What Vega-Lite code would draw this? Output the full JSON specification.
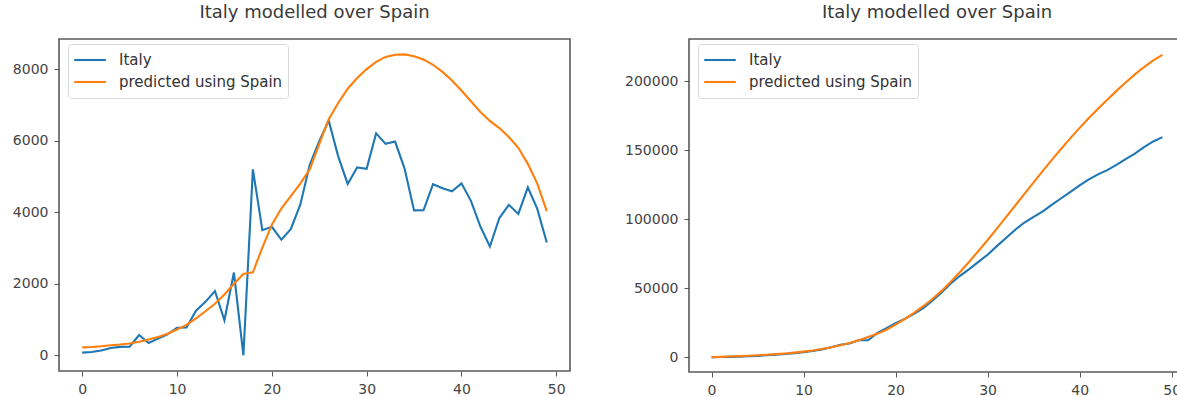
{
  "$schema": "https://vega.github.io/schema/vega-lite/v6.json",
  "background": "white",
  "padding": {"left": 0, "top": 3, "right": 0, "bottom": 0},
  "spacing": 47,
  "config": {
    "font": "DejaVu Sans",
    "view": {"stroke": "#5a5a5a", "strokeWidth": 1.6},
    "title": {"fontSize": 18, "fontWeight": "normal", "color": "#3a3a3a", "offset": 17, "anchor": "middle"},
    "axis": {
      "domain": false, "grid": false, "title": null,
      "tickColor": "#555", "tickSize": 5, "tickWidth": 1,
      "labelFontSize": 14, "labelColor": "#444", "labelPadding": 6
    },
    "legend": {
      "orient": "none", "legendX": 9, "legendY": 5, "title": null,
      "fillColor": "white", "strokeColor": "#d8d8d8", "cornerRadius": 3, "padding": 5,
      "symbolType": "stroke", "symbolSize": 1000, "symbolStrokeWidth": 2.2,
      "labelFontSize": 15, "labelColor": "#333", "labelOffset": 12, "labelLimit": 400,
      "rowPadding": 0, "clipHeight": 22
    },
    "line": {"strokeWidth": 2.1}
  },
  "datasets": {
    "daily": [
      {"day": 0, "Italy": 74, "predicted using Spain": 220},
      {"day": 1, "Italy": 93, "predicted using Spain": 230},
      {"day": 2, "Italy": 131, "predicted using Spain": 250},
      {"day": 3, "Italy": 202, "predicted using Spain": 280},
      {"day": 4, "Italy": 233, "predicted using Spain": 300},
      {"day": 5, "Italy": 240, "predicted using Spain": 330},
      {"day": 6, "Italy": 566, "predicted using Spain": 380},
      {"day": 7, "Italy": 342, "predicted using Spain": 440},
      {"day": 8, "Italy": 466, "predicted using Spain": 510},
      {"day": 9, "Italy": 587, "predicted using Spain": 600},
      {"day": 10, "Italy": 769, "predicted using Spain": 720},
      {"day": 11, "Italy": 778, "predicted using Spain": 850},
      {"day": 12, "Italy": 1247, "predicted using Spain": 1030},
      {"day": 13, "Italy": 1492, "predicted using Spain": 1230},
      {"day": 14, "Italy": 1797, "predicted using Spain": 1440},
      {"day": 15, "Italy": 977, "predicted using Spain": 1700},
      {"day": 16, "Italy": 2313, "predicted using Spain": 2000},
      {"day": 17, "Italy": 0, "predicted using Spain": 2270},
      {"day": 18, "Italy": 5198, "predicted using Spain": 2320},
      {"day": 19, "Italy": 3497, "predicted using Spain": 3010},
      {"day": 20, "Italy": 3590, "predicted using Spain": 3650},
      {"day": 21, "Italy": 3233, "predicted using Spain": 4100},
      {"day": 22, "Italy": 3526, "predicted using Spain": 4450},
      {"day": 23, "Italy": 4207, "predicted using Spain": 4800},
      {"day": 24, "Italy": 5322, "predicted using Spain": 5200},
      {"day": 25, "Italy": 5986, "predicted using Spain": 5900},
      {"day": 26, "Italy": 6557, "predicted using Spain": 6600},
      {"day": 27, "Italy": 5560, "predicted using Spain": 7050},
      {"day": 28, "Italy": 4789, "predicted using Spain": 7450},
      {"day": 29, "Italy": 5249, "predicted using Spain": 7750},
      {"day": 30, "Italy": 5210, "predicted using Spain": 8000},
      {"day": 31, "Italy": 6203, "predicted using Spain": 8200},
      {"day": 32, "Italy": 5909, "predicted using Spain": 8340},
      {"day": 33, "Italy": 5974, "predicted using Spain": 8400},
      {"day": 34, "Italy": 5217, "predicted using Spain": 8410},
      {"day": 35, "Italy": 4050, "predicted using Spain": 8360},
      {"day": 36, "Italy": 4053, "predicted using Spain": 8270},
      {"day": 37, "Italy": 4782, "predicted using Spain": 8120},
      {"day": 38, "Italy": 4668, "predicted using Spain": 7920},
      {"day": 39, "Italy": 4585, "predicted using Spain": 7680},
      {"day": 40, "Italy": 4805, "predicted using Spain": 7400},
      {"day": 41, "Italy": 4316, "predicted using Spain": 7100},
      {"day": 42, "Italy": 3599, "predicted using Spain": 6800},
      {"day": 43, "Italy": 3039, "predicted using Spain": 6550},
      {"day": 44, "Italy": 3836, "predicted using Spain": 6350},
      {"day": 45, "Italy": 4204, "predicted using Spain": 6100},
      {"day": 46, "Italy": 3951, "predicted using Spain": 5800},
      {"day": 47, "Italy": 4694, "predicted using Spain": 5350},
      {"day": 48, "Italy": 4092, "predicted using Spain": 4800},
      {"day": 49, "Italy": 3153, "predicted using Spain": 4030}
    ],
    "cumulative": [
      {"day": 0, "Italy": 229, "predicted using Spain": 220},
      {"day": 1, "Italy": 322, "predicted using Spain": 450},
      {"day": 2, "Italy": 453, "predicted using Spain": 700},
      {"day": 3, "Italy": 655, "predicted using Spain": 980},
      {"day": 4, "Italy": 888, "predicted using Spain": 1280},
      {"day": 5, "Italy": 1128, "predicted using Spain": 1610},
      {"day": 6, "Italy": 1694, "predicted using Spain": 1990},
      {"day": 7, "Italy": 2036, "predicted using Spain": 2430},
      {"day": 8, "Italy": 2502, "predicted using Spain": 2940},
      {"day": 9, "Italy": 3089, "predicted using Spain": 3540},
      {"day": 10, "Italy": 3858, "predicted using Spain": 4260},
      {"day": 11, "Italy": 4636, "predicted using Spain": 5110},
      {"day": 12, "Italy": 5883, "predicted using Spain": 6140},
      {"day": 13, "Italy": 7375, "predicted using Spain": 7370},
      {"day": 14, "Italy": 9172, "predicted using Spain": 8810},
      {"day": 15, "Italy": 10149, "predicted using Spain": 10510},
      {"day": 16, "Italy": 12462, "predicted using Spain": 12510},
      {"day": 17, "Italy": 12462, "predicted using Spain": 14780},
      {"day": 18, "Italy": 17660, "predicted using Spain": 17100},
      {"day": 19, "Italy": 21157, "predicted using Spain": 20110},
      {"day": 20, "Italy": 24747, "predicted using Spain": 23760},
      {"day": 21, "Italy": 27980, "predicted using Spain": 27860},
      {"day": 22, "Italy": 31506, "predicted using Spain": 32310},
      {"day": 23, "Italy": 35713, "predicted using Spain": 37110},
      {"day": 24, "Italy": 41035, "predicted using Spain": 42310},
      {"day": 25, "Italy": 47021, "predicted using Spain": 48210},
      {"day": 26, "Italy": 53578, "predicted using Spain": 54810},
      {"day": 27, "Italy": 59138, "predicted using Spain": 61860},
      {"day": 28, "Italy": 63927, "predicted using Spain": 69310},
      {"day": 29, "Italy": 69176, "predicted using Spain": 77060},
      {"day": 30, "Italy": 74386, "predicted using Spain": 85060},
      {"day": 31, "Italy": 80589, "predicted using Spain": 93260},
      {"day": 32, "Italy": 86498, "predicted using Spain": 101600},
      {"day": 33, "Italy": 92472, "predicted using Spain": 110000},
      {"day": 34, "Italy": 97689, "predicted using Spain": 118410},
      {"day": 35, "Italy": 101739, "predicted using Spain": 126770},
      {"day": 36, "Italy": 105792, "predicted using Spain": 135040},
      {"day": 37, "Italy": 110574, "predicted using Spain": 143160},
      {"day": 38, "Italy": 115242, "predicted using Spain": 151080},
      {"day": 39, "Italy": 119827, "predicted using Spain": 158760},
      {"day": 40, "Italy": 124632, "predicted using Spain": 166160},
      {"day": 41, "Italy": 128948, "predicted using Spain": 173260},
      {"day": 42, "Italy": 132547, "predicted using Spain": 180060},
      {"day": 43, "Italy": 135586, "predicted using Spain": 186610},
      {"day": 44, "Italy": 139422, "predicted using Spain": 192960},
      {"day": 45, "Italy": 143626, "predicted using Spain": 199060},
      {"day": 46, "Italy": 147577, "predicted using Spain": 204860},
      {"day": 47, "Italy": 152271, "predicted using Spain": 210210},
      {"day": 48, "Italy": 156363, "predicted using Spain": 215010},
      {"day": 49, "Italy": 159516, "predicted using Spain": 219040}
    ]
  },
  "resolve": {"scale": {"color": "independent", "y": "independent"}, "legend": {"color": "independent"}},
  "hconcat": [
    {
      "title": "Italy modelled over Spain",
      "width": 511,
      "height": 332,
      "data": {"name": "daily"},
      "transform": [{"fold": ["Italy", "predicted using Spain"], "as": ["series", "value"]}],
      "mark": {"type": "line"},
      "encoding": {
        "x": {"field": "day", "type": "quantitative",
              "scale": {"domain": [-2.45, 51.45], "nice": false, "zero": false},
              "axis": {"values": [0, 10, 20, 30, 40, 50], "format": "d"}},
        "y": {"field": "value", "type": "quantitative",
              "scale": {"domain": [-440, 8840], "nice": false, "zero": false},
              "axis": {"values": [0, 2000, 4000, 6000, 8000], "format": "d", "minExtent": 58, "maxExtent": 58}},
        "color": {"field": "series", "type": "nominal",
                  "scale": {"domain": ["Italy", "predicted using Spain"], "range": ["#1f77b4", "#ff7f0e"]}}
      }
    },
    {
      "title": "Italy modelled over Spain",
      "width": 496,
      "height": 333,
      "data": {"name": "cumulative"},
      "transform": [{"fold": ["Italy", "predicted using Spain"], "as": ["series", "value"]}],
      "mark": {"type": "line"},
      "encoding": {
        "x": {"field": "day", "type": "quantitative",
              "scale": {"domain": [-2.45, 51.45], "nice": false, "zero": false},
              "axis": {"values": [0, 10, 20, 30, 40, 50], "format": "d"}},
        "y": {"field": "value", "type": "quantitative",
              "scale": {"domain": [-10500, 230500], "nice": false, "zero": false},
              "axis": {"values": [0, 50000, 100000, 150000, 200000], "format": "d", "minExtent": 70, "maxExtent": 70}},
        "color": {"field": "series", "type": "nominal",
                  "scale": {"domain": ["Italy", "predicted using Spain"], "range": ["#1f77b4", "#ff7f0e"]}}
      }
    }
  ]
}
